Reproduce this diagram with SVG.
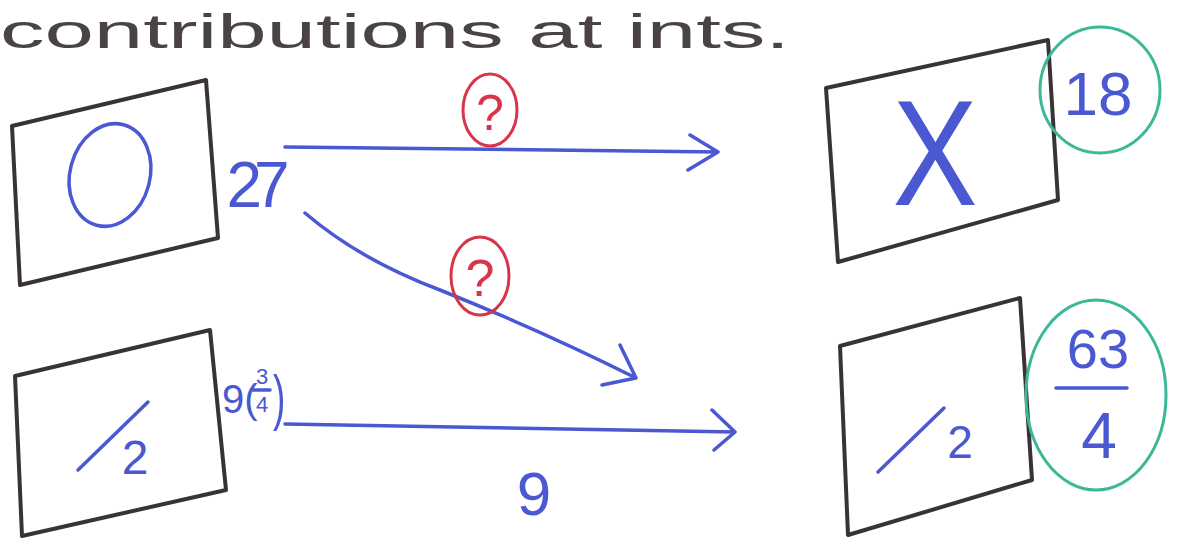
<svg xmlns="http://www.w3.org/2000/svg" width="1184" height="552" viewBox="0 0 1184 552">
<style>
.box{fill:none;stroke:#3a3336;stroke-width:4;stroke-linejoin:round}
.blue{fill:none;stroke:#4a58d2;stroke-width:3.5;stroke-linecap:round;stroke-linejoin:round}
.red{fill:none;stroke:#d8344a;stroke-width:3}
.green{fill:none;stroke:#3cb899;stroke-width:3}
.bt{fill:#4a58d2;font-family:"Liberation Sans",sans-serif}
.rt{fill:#d8344a;font-family:"Liberation Sans",sans-serif}
.gt{fill:#4a4346;font-family:"Liberation Sans",sans-serif}
</style>
<rect width="1184" height="552" fill="#fff"/>
<text class="gt" x="0" y="48" font-size="48" textLength="790" lengthAdjust="spacingAndGlyphs">contributions at ints.</text>
<g id="node-o">
<path class="box" d="M12,126 L206,80 L218,238 L20,285 Z"/>
<ellipse class="blue" cx="110" cy="175" rx="40" ry="52" transform="rotate(15 110 175)"/>
</g>
<g id="node-x">
<path class="box" d="M826,88 L1048,40 L1058,200 L838,262 Z"/>
<text class="bt" x="935" y="205" font-size="150" text-anchor="middle" transform="translate(935 140) scale(0.85 1) translate(-935 -140)">X</text>
<ellipse class="green" cx="1100" cy="90" rx="60" ry="63"/>
<text class="bt" x="1098" y="115" font-size="62" text-anchor="middle">18</text>
</g>
<g id="node-half-left">
<path class="box" d="M15,376 L210,330 L226,490 L22,536 Z"/>
<path class="blue" d="M78,470 L148,402"/>
<text class="bt" x="135" y="474" font-size="48" text-anchor="middle">2</text>
</g>
<g id="node-half-right">
<path class="box" d="M840,346 L1020,298 L1032,480 L848,535 Z"/>
<path class="blue" d="M878,472 L944,408"/>
<text class="bt" x="960" y="458" font-size="46" text-anchor="middle">2</text>
<ellipse class="green" cx="1096" cy="395" rx="70" ry="95"/>
<text class="bt" x="1098" y="368" font-size="56" text-anchor="middle">63</text>
<path class="blue" d="M1056,388 L1127,388"/>
<text class="bt" x="1099" y="458" font-size="64" text-anchor="middle">4</text>
</g>
<g id="connectors">
<path class="blue" d="M285,147 L718,152 M690,135 L718,152 L688,170"/>
<path class="blue" d="M305,213 Q360,260 440,290 Q540,330 636,378 M620,345 L636,378 L602,385"/>
<path class="blue" d="M285,424 L735,432 M712,410 L735,432 L714,450"/>
<ellipse class="red" cx="490" cy="110" rx="27" ry="36"/>
<text class="rt" x="490" y="130" font-size="50" text-anchor="middle">?</text>
<ellipse class="red" cx="480" cy="276" rx="29" ry="39"/>
<text class="rt" x="480" y="296" font-size="52" text-anchor="middle">?</text>
<text class="bt" x="254" y="207" font-size="64" text-anchor="middle" letter-spacing="-8">27</text>
<text class="bt" x="222" y="413" font-size="40">9(</text>
<text class="bt" x="256" y="384" font-size="22">3</text>
<path class="blue" d="M253,390 L270,390"/>
<text class="bt" x="256" y="412" font-size="22">4</text>
<text class="bt" x="273" y="418" font-size="62" transform="translate(273 400) scale(0.6 1) translate(-273 -400)">)</text>
<text class="bt" x="534" y="515" font-size="62" text-anchor="middle">9</text>
</g>
</svg>
